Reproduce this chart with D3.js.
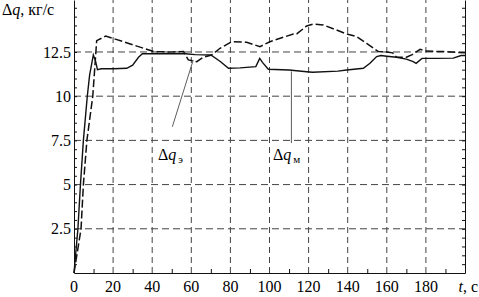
<!DOCTYPE html>
<html>
<head>
<meta charset="utf-8">
<script src="https://cdn.jsdelivr.net/npm/d3@7"></script>
<style>
  body { margin: 0; background: #fff; }
  svg { display: block; }
  svg text { font-family: "Liberation Serif", "Times New Roman", Times, "DejaVu Serif", serif; }
</style>
</head>
<body>
<svg id="chart" width="479" height="297"></svg>
<script>
// measured flow difference, solid line (Δq_м)
let tM = [0, 2, 3.3, 4.8, 6.8, 8, 9.9, 11, 12, 14, 20, 27, 30, 33, 35, 45, 57, 62, 70, 75, 79, 85, 93, 95, 96.5, 99.4, 110, 119, 122, 135, 139.5, 148, 151.4, 154.8, 157, 160, 165, 170, 173.5, 175, 178, 185, 194, 198, 200];
let qM = [0, 2.5, 5, 7.5, 10, 11.2, 12.33, 12.0, 11.5, 11.55, 11.55, 11.58, 11.75, 12.2, 12.4, 12.4, 12.4, 12.35, 12.33, 11.95, 11.58, 11.6, 11.67, 12.14, 11.9, 11.52, 11.48, 11.38, 11.35, 11.42, 11.48, 11.58, 11.86, 12.24, 12.3, 12.26, 12.2, 12.1, 11.95, 11.86, 12.14, 12.14, 12.15, 12.3, 12.3];

// dashed line (Δq_э)
let tE = [0, 3.6, 4.8, 6.6, 9.6, 11.6, 16.2, 25.6, 40.9, 50, 56, 58.5, 62.8, 66, 70.4, 74.7, 80.7, 88.3, 95.1, 100.2, 112.2, 113.9, 119, 122.4, 127.5, 139.5, 144.6, 149.7, 155.7, 160, 163, 165, 170, 173, 177, 180, 190, 200];
let qE = [0, 2.5, 5, 7.5, 10, 13.14, 13.4, 13.07, 12.52, 12.5, 12.52, 12.05, 11.95, 12.2, 12.33, 12.71, 13.08, 13.05, 12.8, 13.08, 13.52, 13.52, 13.97, 14.08, 14.03, 13.52, 13.37, 12.99, 12.52, 12.5, 12.45, 12.2, 12.2, 12.35, 12.65, 12.55, 12.52, 12.45];

let xTicks = [0, 20, 40, 60, 80, 100, 120, 140, 160, 180];
let yTicks = [2.5, 5, 7.5, 10, 12.5];
let yLabels = ["2.5", "5", "7.5", "10", "12.5"];

let svg = d3.select("#chart");

let x = d3.scaleLinear().domain([0, 200]).range([74, 465]);
let y = d3.scaleLinear().domain([0, 15.44]).range([273, 0]);

// grid
svg.append("g").selectAll("line")
  .data(xTicks.slice(1))
  .join("line")
  .attr("x1", d => x(d)).attr("x2", d => x(d))
  .attr("y1", y(0)).attr("y2", 0)
  .attr("stroke", "#444").attr("stroke-dasharray", "6,4");

svg.append("g").selectAll("line")
  .data(yTicks)
  .join("line")
  .attr("x1", x(0)).attr("x2", x(200))
  .attr("y1", d => y(d)).attr("y2", d => y(d))
  .attr("stroke", "#444").attr("stroke-dasharray", "7,4");

// axes (ticks pointing inward)
let minorY = d3.range(0.5, 15.3, 0.5);
let xAxis = d3.axisTop(x).tickValues(d3.range(10, 200, 20)).tickSize(4).tickSizeOuter(0).tickFormat("");
let leftAxis = d3.axisRight(y).tickValues(minorY).tickSize(3).tickSizeOuter(0).tickFormat("");
let rightAxis = d3.axisLeft(y).tickValues(minorY).tickSize(3).tickSizeOuter(0).tickFormat("");

svg.append("g").attr("transform", `translate(0,${y(0)})`).call(xAxis);
svg.append("g").attr("transform", `translate(${x(0)},0)`).call(leftAxis);
svg.append("g").attr("transform", `translate(${x(200)},0)`).call(rightAxis);
svg.selectAll(".domain, .tick line").attr("stroke", "#111");

// tick labels
svg.append("g").selectAll("text")
  .data(xTicks)
  .join("text")
  .attr("x", d => x(d)).attr("y", 292)
  .attr("text-anchor", "middle")
  .attr("font-size", 16)
  .text(d => d);

svg.append("g").selectAll("text")
  .data(yTicks)
  .join("text")
  .attr("x", 71).attr("y", d => y(d))
  .attr("dy", "0.35em")
  .attr("text-anchor", "end")
  .attr("font-size", 16)
  .text((d, i) => yLabels[i]);

// curves
let line = d3.line().x(d => x(d[0])).y(d => y(d[1]));

svg.append("path")
  .datum(d3.zip(tE, qE))
  .attr("d", line)
  .attr("fill", "none").attr("stroke", "#111")
  .attr("stroke-width", 1.5).attr("stroke-dasharray", "8,3");

svg.append("path")
  .datum(d3.zip(tM, qM))
  .attr("d", line)
  .attr("fill", "none").attr("stroke", "#111")
  .attr("stroke-width", 1.4);

// leader lines
svg.append("line")
  .attr("x1", x(50.3)).attr("y1", y(8.27))
  .attr("x2", x(61)).attr("y2", y(12.05))
  .attr("stroke", "#333").attr("stroke-width", 0.8);
svg.append("line")
  .attr("x1", x(111.2)).attr("y1", y(7.35))
  .attr("x2", x(111.2)).attr("y2", y(11.4))
  .attr("stroke", "#333").attr("stroke-width", 0.8);

// curve labels
function curveLabel(t, v, sub) {
  let txt = svg.append("text")
    .attr("x", x(t)).attr("y", y(v))
    .attr("font-size", 16);
  txt.append("tspan").text("Δ");
  txt.append("tspan").attr("font-style", "italic").text("q");
  txt.append("tspan").attr("font-size", 11).attr("dx", 2).attr("dy", 3).text(sub);
}
curveLabel(43, 6.39, "э");
curveLabel(101.8, 6.39, "м");

// axis titles
let yt = svg.append("text").attr("x", 2).attr("y", 15).attr("font-size", 16);
yt.append("tspan").text("Δ");
yt.append("tspan").attr("font-style", "italic").text("q");
yt.append("tspan").text(", кг/с");

let xt = svg.append("text").attr("x", 478).attr("y", 292)
  .attr("text-anchor", "end").attr("font-size", 16);
xt.append("tspan").attr("font-style", "italic").text("t");
xt.append("tspan").text(", c");
</script>
</body>
</html>
